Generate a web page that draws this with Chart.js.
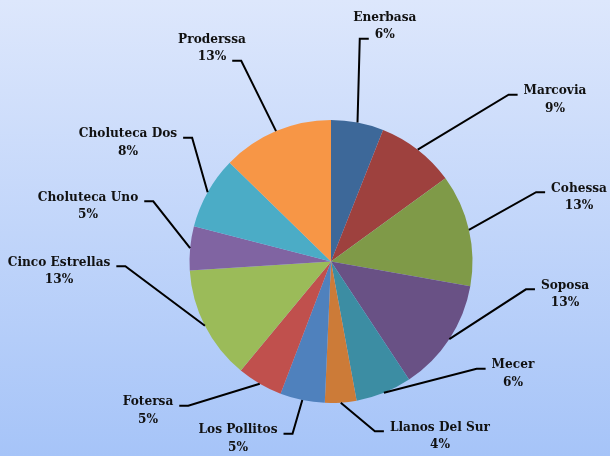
<!DOCTYPE html>
<html>
<head>
<meta charset="utf-8">
<script src="https://cdn.jsdelivr.net/npm/chart.js@4/dist/chart.umd.min.js"></script>
<style>
html,body{margin:0;padding:0;}
body{width:610px;height:456px;background:linear-gradient(to bottom,#dde7fc 0%,#a6c4f8 100%);}
#wrap{position:relative;width:610px;height:456px;}
</style>
</head>
<body>
<div id="wrap"><canvas id="c" width="610" height="456"></canvas></div>
<script>
// ---- data ----
const categories = ["Enerbasa","Marcovia","Cohessa","Soposa","Mecer","Llanos Del Sur","Los Pollitos","Fotersa","Cinco Estrellas","Choluteca Uno","Choluteca Dos","Proderssa"];
const shares = [6.0, 9.0, 12.8, 12.9, 6.4, 3.6, 5.1, 5.2, 13.0, 5.0, 8.3, 12.7];
const sliceColors = ["#3d6899","#9e413e","#7f9a48","#695185","#3c8da3","#cc7b38","#4f81bd","#c0504d","#9bbb59","#8064a2","#4bacc6","#f79646"];

// label layout: text block centre relative to pie centre, in units of pie radius
const labelOffsets = [
  [0.38,-1.665],[1.583,-1.145],[1.753,-0.456],[1.654,0.23],[1.286,0.792],[0.77,1.233],
  [-0.657,1.251],[-1.293,1.053],[-1.922,0.067],[-1.717,-0.392],[-1.435,-0.841],[-0.841,-1.509]
];

const FONT = "bold 13.5px 'DejaVu Serif Condensed', 'DejaVu Serif'";
const LINE_H = 17.5;

const labelPlugin = {
  id: 'leaderLabels',
  afterDatasetsDraw(chart) {
    const ctx = chart.ctx;
    const meta = chart.getDatasetMeta(0);
    const total = shares.reduce((a,b)=>a+b,0);
    ctx.save();
    ctx.font = FONT;
    ctx.textAlign = 'center';
    ctx.textBaseline = 'middle';
    meta.data.forEach((arc, i) => {
      const {x: cx, y: cy, outerRadius: R, startAngle, endAngle} = arc.getProps(['x','y','outerRadius','startAngle','endAngle'], true);
      const mid = (startAngle + endAngle) / 2;
      const px = cx + Math.cos(mid) * R;
      const py = cy + Math.sin(mid) * R;
      const tx = cx + labelOffsets[i][0] * R;
      const ty = cy + labelOffsets[i][1] * R;
      const line1 = categories[i];
      const line2 = Math.round(shares[i] / total * 100) + '%';
      const y1 = ty - LINE_H / 2, y2 = ty + LINE_H / 2;
      const above = ty < cy - R * 1.3;
      const attachText = above ? line2 : line1;
      const ay = (above ? y2 : y1) + 4;
      const w = ctx.measureText(attachText).width;
      const side = labelOffsets[i][0] >= 0 ? 1 : -1;
      const gap = 6, tick = 9;
      const tickEnd = side > 0 ? tx - w / 2 - gap : tx + w / 2 + gap;
      const elbow = tickEnd - side * tick;
      ctx.strokeStyle = '#000';
      ctx.lineWidth = 2;
      ctx.beginPath();
      ctx.moveTo(px, py);
      ctx.lineTo(elbow, ay);
      ctx.lineTo(tickEnd, ay);
      ctx.stroke();
      ctx.fillStyle = '#111';
      ctx.fillText(line1, tx, y1);
      ctx.fillText(line2, tx, y2);
    });
    ctx.restore();
  }
};

new Chart(document.getElementById('c'), {
  type: 'pie',
  data: {
    labels: categories,
    datasets: [{
      data: shares,
      backgroundColor: sliceColors,
      borderWidth: 0
    }]
  },
  options: {
    responsive: false,
    animation: false,
    layout: { padding: { left: 189.5, right: 137.5, top: 120, bottom: 53 } },
    plugins: { legend: { display: false }, tooltip: { enabled: false } }
  },
  plugins: [labelPlugin]
});
</script>
</body>
</html>
